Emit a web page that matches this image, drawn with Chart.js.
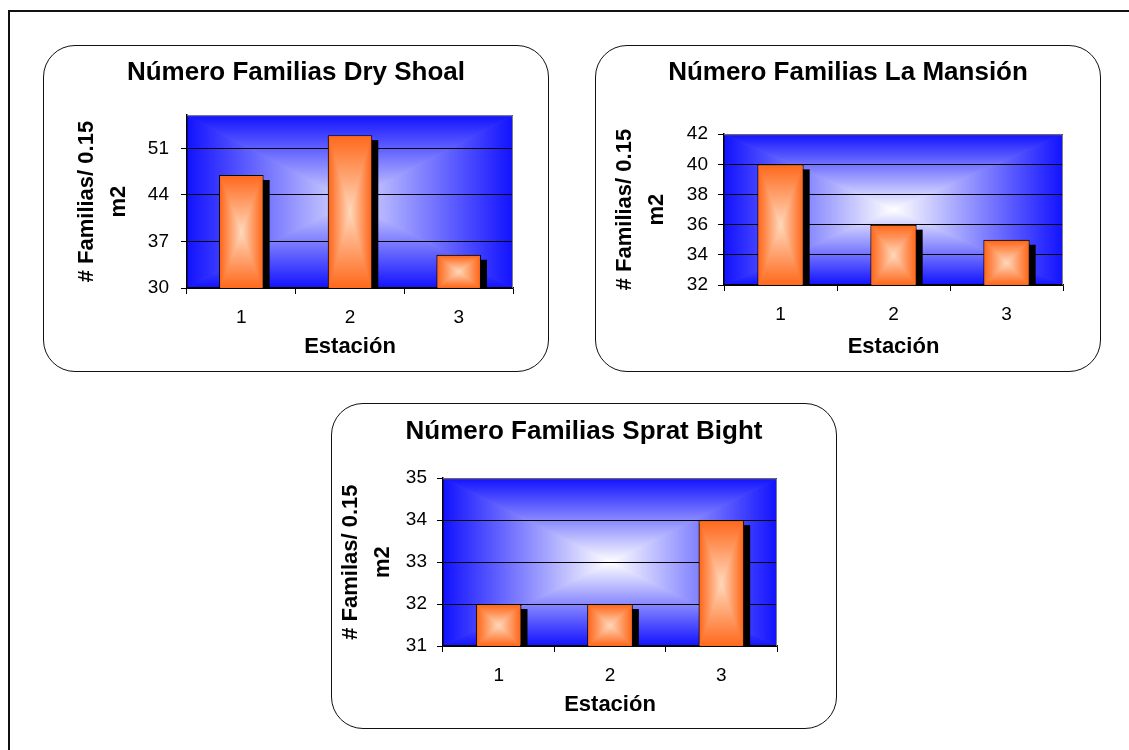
<!DOCTYPE html>
<html>
<head>
<meta charset="utf-8">
<script src="https://cdn.jsdelivr.net/npm/chart.js@4/dist/chart.umd.min.js"></script>
<style>
  body { margin: 0; background: #fff; width: 1129px; height: 750px; overflow: hidden; position: relative; }
  #frame { position: absolute; left: 8px; top: 10px; width: 1200px; height: 800px; border-left: 2px solid #111; border-top: 2px solid #111; }
  .box { position: absolute; box-sizing: border-box; border: 1px solid #111; border-radius: 32px; background: #fff; }
  .box canvas { position: absolute; left: -1px; top: -1px; }
</style>
</head>
<body>
<div id="frame"></div>
<div id="elements"></div>
<script>
// Data
const estaciones = ["1", "2", "3"];

const dryShoalValues = [47, 53, 35];
const dryShoalTicks = [30, 37, 44, 51];
const dryShoalRange = [30, 56];

const laMansionValues = [40, 36, 35];
const laMansionTicks = [32, 34, 36, 38, 40, 42];
const laMansionRange = [32, 42];

const spratBightValues = [32, 32, 34];
const spratBightTicks = [31, 32, 33, 34, 35];
const spratBightRange = [31, 35];

const FONT = "'Liberation Sans', Arial, sans-serif";

// Excel style "from centre" rectangle gradient: four triangles meeting in the middle
const rectGradient = function(ctx, l, t, r, b, edge, centre) {
    const cx = (l + r) / 2, cy = (t + b) / 2;
    const sides = [
        [l, t, r, t, cx, t],
        [r, t, r, b, r, cy],
        [r, b, l, b, cx, b],
        [l, b, l, t, l, cy]
    ];
    sides.forEach(function(s) {
        const g = ctx.createLinearGradient(s[4], s[5], cx, cy);
        g.addColorStop(0, edge);
        g.addColorStop(1, centre);
        ctx.fillStyle = g;
        ctx.strokeStyle = g;
        ctx.lineWidth = 1;
        ctx.beginPath();
        ctx.moveTo(s[0], s[1]);
        ctx.lineTo(s[2], s[3]);
        ctx.lineTo(cx, cy);
        ctx.closePath();
        ctx.fill();
        ctx.stroke();
    });
};

const clipArea = function(chart) {
    const a = chart.chartArea;
    chart.ctx.beginPath();
    chart.ctx.rect(a.left, a.top, a.right - a.left, a.bottom - a.top);
    chart.ctx.clip();
};

const excelLook = {
    id: "excelLook",
    beforeDraw: function(chart, args, opts) {
        const a = chart.chartArea, ctx = chart.ctx;
        ctx.save();
        clipArea(chart);
        rectGradient(ctx, a.left, a.top, a.right, a.bottom, "#1212ff", opts.glow || "#ffffff");
        ctx.restore();
    },
    beforeDatasetsDraw: function(chart) {
        // black drop shadow behind every bar
        const a = chart.chartArea, ctx = chart.ctx;
        ctx.save();
        clipArea(chart);
        ctx.fillStyle = "#000";
        chart.getDatasetMeta(0).data.forEach(function(bar) {
            const top = Math.min(bar.y, bar.base);
            ctx.fillRect(bar.x - bar.width / 2 + 6, top + 5, bar.width, a.bottom - top);
        });
        ctx.restore();
    },
    afterDatasetsDraw: function(chart) {
        const a = chart.chartArea, ctx = chart.ctx;
        const bw = 1.5;
        ctx.save();
        clipArea(chart);
        chart.getDatasetMeta(0).data.forEach(function(bar) {
            const top = Math.min(bar.y, bar.base);
            rectGradient(ctx, bar.x - bar.width / 2 + bw, top + bw, bar.x + bar.width / 2 - bw, a.bottom - 0.75, "#ff6a1e", "#ffd8bc");
        });
        ctx.restore();
        // grey frame on the top and right of the plot area
        ctx.save();
        ctx.strokeStyle = "#808080";
        ctx.lineWidth = 1;
        ctx.beginPath();
        ctx.moveTo(a.left, a.top + 0.5);
        ctx.lineTo(a.right - 0.5, a.top + 0.5);
        ctx.lineTo(a.right - 0.5, a.bottom);
        ctx.stroke();
        ctx.restore();
    }
};

const FamiliasChart = function(cfg) {
    // Rounded box
    const box = document.createElement("div");
    box.className = "box";
    Object.assign(box.style, {
        left: cfg.box[0] + "px",
        top: cfg.box[1] + "px",
        width: cfg.box[2] + "px",
        height: cfg.box[3] + "px"
    });
    const canvas = document.createElement("canvas");
    canvas.width = cfg.box[2];
    canvas.height = cfg.box[3];
    box.appendChild(canvas);
    document.getElementById("elements").appendChild(box);

    const data = {
        labels: estaciones,
        datasets: [{
            data: cfg.values,
            backgroundColor: "#ff6a1e",
            borderColor: "#000",
            borderWidth: 1.5,
            borderSkipped: false,
            categoryPercentage: 1,
            barPercentage: 0.41
        }]
    };

    const options = {
        responsive: false,
        animation: false,
        layout: { padding: 0 },
        plugins: {
            legend: { display: false },
            tooltip: { enabled: false },
            excelLook: { glow: cfg.glow },
            title: {
                display: true,
                text: cfg.title,
                color: "#000",
                font: { family: FONT, size: 26, weight: "bold", lineHeight: 1.2 },
                padding: { top: cfg.titleTop, bottom: cfg.titleBottom }
            }
        },
        scales: {
            x: {
                grid: { drawOnChartArea: false, color: "#000", tickLength: 6, offset: true },
                border: { color: "#000", width: 1.5 },
                ticks: { color: "#000", font: { family: FONT, size: 19 }, padding: 12 },
                title: {
                    display: true,
                    text: "Estación",
                    color: "#000",
                    font: { family: FONT, size: 22, weight: "bold", lineHeight: 1.2 },
                    padding: { top: 0, bottom: cfg.xTitleBottom }
                },
                afterFit: function(scale) { scale.height = cfg.xHeight; }
            },
            y: {
                min: cfg.range[0],
                max: cfg.range[1],
                afterBuildTicks: function(scale) {
                    scale.ticks = cfg.ticks.map(function(v) { return { value: v }; });
                },
                grid: { color: "#000", tickLength: 6 },
                border: { color: "#000", width: 1.5 },
                ticks: { color: "#000", font: { family: FONT, size: 19 }, padding: cfg.yTickPad, autoSkip: false },
                title: {
                    display: true,
                    text: cfg.yTitle,
                    color: "#000",
                    font: { family: FONT, size: 22, weight: "bold", lineHeight: 1.45 },
                    padding: { top: cfg.yTitleTop, bottom: 0 }
                },
                afterFit: function(scale) { scale.width = cfg.yWidth; }
            },
            // empty right axis, only keeps the white margin right of the plot
            gap: {
                position: "right",
                grid: { display: false },
                border: { display: false },
                ticks: { display: false },
                afterFit: function(scale) { scale.width = cfg.padRight; }
            }
        }
    };

    this.chart = new Chart(canvas.getContext("2d"), { type: "bar", data: data, options: options, plugins: [excelLook] });
};

new FamiliasChart({
    box: [43, 45, 506, 327],
    title: "Número Familias Dry Shoal",
    values: dryShoalValues, ticks: dryShoalTicks, range: dryShoalRange,
    yTitle: ["# Familias/ 0.15", "m2"],
    glow: "#dcdcff",
    padRight: 36, titleTop: 12, titleBottom: 27,
    yWidth: 144, yTitleTop: 28, yTickPad: 12,
    xHeight: 84, xTitleBottom: 12
});

new FamiliasChart({
    box: [595, 45, 506, 327],
    title: "Número Familias La Mansión",
    values: laMansionValues, ticks: laMansionTicks, range: laMansionRange,
    yTitle: ["# Familias/ 0.15", "m2"],
    glow: "#ffffff",
    padRight: 38, titleTop: 12, titleBottom: 46,
    yWidth: 129, yTitleTop: 14, yTickPad: 10,
    xHeight: 87, xTitleBottom: 12
});

new FamiliasChart({
    box: [331, 403, 506, 326],
    title: "Número Familias Sprat Bight",
    values: spratBightValues, ticks: spratBightTicks, range: spratBightRange,
    yTitle: ["# Familas/ 0.15", "m2"],
    glow: "#ffffff",
    padRight: 60, titleTop: 13, titleBottom: 31,
    yWidth: 112, yTitleTop: 4, yTickPad: 10,
    xHeight: 83, xTitleBottom: 11
});
</script>
</body>
</html>
